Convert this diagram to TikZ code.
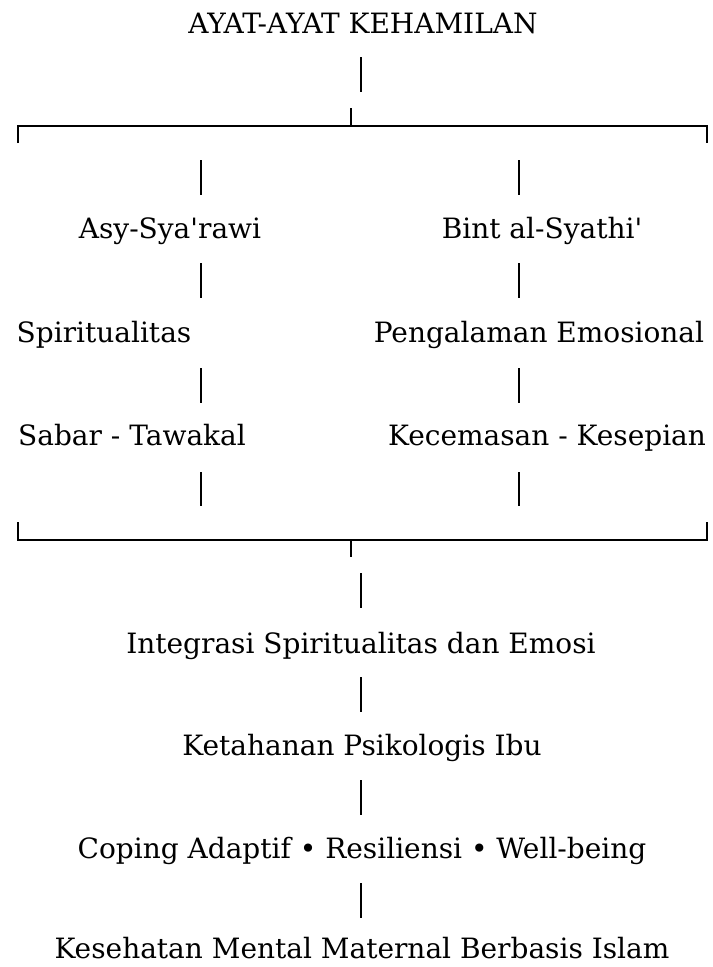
\documentclass[tikz,border=0pt]{standalone}
\usepackage{fontspec}
\setmainfont{DejaVu Serif}
\begin{document}
\begin{tikzpicture}[x=0.75pt,y=-0.75pt,
  lbl/.style={anchor=base,inner sep=0pt,font=\fontsize{21}{24}\selectfont},
  bar/.style={line width=2.1pt},
  brk/.style={line width=1.9pt}]
\useasboundingbox (0,0) rectangle (713,967);
% texts
\node[lbl] (T) at (363,33) {AYAT-AYAT KEHAMILAN};
\node[lbl] (A1) at (170,238) {Asy-Sya\textquotesingle rawi};
\node[lbl] (B1) at (542,238) {Bint al-Syathi\textquotesingle};
\node[lbl] (A2) at (104,342) {Spiritualitas};
\node[lbl] (B2) at (539,342) {Pengalaman Emosional};
\node[lbl] (A3) at (132,445) {Sabar - Tawakal};
\node[lbl] (B3) at (547,445) {Kecemasan - Kesepian};
\node[lbl] (I) at (361,653) {Integrasi Spiritualitas dan Emosi};
\node[lbl] (K) at (362,755) {Ketahanan Psikologis Ibu};
\node[lbl] (C) at (362,858) {Coping Adaptif • Resiliensi • Well-being};
\node[lbl] (M) at (362,958) {Kesehatan Mental Maternal Berbasis Islam};
% coordinates
\coordinate (t1) at (361,57); \coordinate (t2) at (361,92);
\coordinate (j1) at (351,108); \coordinate (j2) at (351,126);
\coordinate (tl) at (18,143); \coordinate (tlc) at (18,126);
\coordinate (tr) at (707,143); \coordinate (trc) at (707,126);
\coordinate (bl) at (18,522); \coordinate (blc) at (18,540);
\coordinate (br) at (707,522); \coordinate (brc) at (707,540);
\coordinate (b1) at (351,540); \coordinate (b2) at (351,557);
% top
\draw[bar] (t1) -- (t2);
\draw[bar] (j1) -- (j2);
\draw[brk] (tl) -- (tlc) -- (trc) -- (tr);
% columns
\draw[bar] (201,160) -- (201,195);
\draw[bar] (519,160) -- (519,195);
\draw[bar] (201,263) -- (201,298);
\draw[bar] (519,263) -- (519,298);
\draw[bar] (201,368) -- (201,403);
\draw[bar] (519,368) -- (519,403);
\draw[bar] (201,472) -- (201,506);
\draw[bar] (519,472) -- (519,506);
% bottom bracket
\draw[brk] (bl) -- (blc) -- (brc) -- (br);
\draw[bar] (b1) -- (b2);
% lower chain
\draw[bar] (361,573) -- (361,608);
\draw[bar] (361,677) -- (361,712);
\draw[bar] (361,780) -- (361,815);
\draw[bar] (361,883) -- (361,918);
\end{tikzpicture}
\end{document}
